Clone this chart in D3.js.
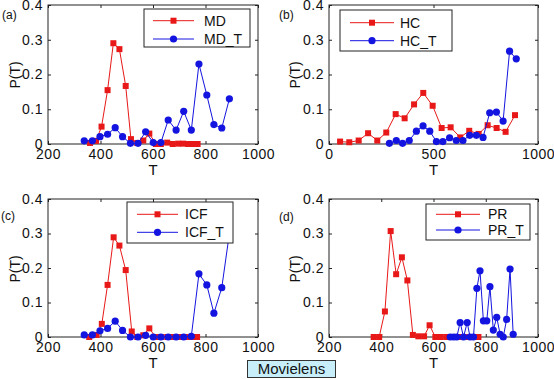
<!DOCTYPE html>
<html><head><meta charset="utf-8">
<script src="https://cdn.jsdelivr.net/npm/d3@7"></script>
<style>
body{margin:0;background:#fff;}
svg{display:block;font-family:"Liberation Sans",Arial,Helvetica,sans-serif;}
</style></head>
<body><svg id="c" width="554" height="380"></svg>
<script>
// ---------- data ----------
const xTicksA = [200, 400, 600, 800, 1000];
const xTicksB = [0, 500, 1000];
const yTicks = [0, 0.1, 0.2, 0.3, 0.4];

// (a) MD
const tMD = [360, 383, 404, 427, 449, 472, 496, 516, 540, 563, 586, 611, 630, 654, 675, 696, 715, 734, 754, 770];
const pMD = [0.003, 0.009, 0.05, 0.155, 0.29, 0.273, 0.167, 0.014, 0.003, 0.01, 0.03, 0, 0, 0.004, 0, 0.001, 0.001, 0, 0, 0];
const tMDT = [338, 369, 398, 427, 456, 484, 514, 543, 572, 601, 630, 658, 688, 717, 746, 775, 805, 832, 862, 891];
const pMDT = [0.009, 0.009, 0.021, 0.028, 0.047, 0.021, 0.002, 0.002, 0.035, 0.004, 0.004, 0.069, 0.04, 0.094, 0.04, 0.23, 0.141, 0.056, 0.046, 0.13];

// (b) HC
const tHC = [53, 97, 142, 187, 231, 274, 319, 362, 407, 451, 496, 539, 582, 628, 671, 716, 759, 802, 845, 890];
const pHC = [0.007, 0.005, 0.01, 0.031, 0.01, 0.033, 0.086, 0.074, 0.114, 0.147, 0.11, 0.046, 0.048, 0.019, 0.038, 0.029, 0.054, 0.046, 0.035, 0.083];
const tHCT = [289, 322, 352, 384, 418, 450, 482, 514, 545, 577, 609, 641, 673, 705, 737, 769, 801, 833, 864, 896];
const pHCT = [0.002, 0.01, 0.002, 0.01, 0.037, 0.052, 0.037, 0.007, 0.007, 0.018, 0.01, 0.01, 0.025, 0.025, 0.019, 0.09, 0.092, 0.066, 0.267, 0.245];

// (c) ICF
const tICF = [357, 385, 405, 427, 450, 472, 496, 519, 540, 563, 586, 610, 630, 654, 675, 696, 715, 734, 754, 768];
const pICF = [0, 0.006, 0.038, 0.151, 0.289, 0.265, 0.194, 0.016, 0, 0.005, 0.025, 0, 0, 0, 0, 0, 0, 0, 0, 0];
const tICFT = [338, 369, 398, 427, 456, 484, 514, 543, 572, 601, 630, 658, 688, 717, 746, 775, 805, 832, 862, 891];
const pICFT = [0.006, 0.006, 0.018, 0.025, 0.046, 0.019, 0, 0, 0.005, 0, 0, 0, 0, 0, 0.002, 0.183, 0.151, 0.069, 0.143, 0.3];

// (d) PR
const tPR = [371, 392, 414, 436, 457, 479, 500, 521, 542, 564, 585, 607, 628, 650, 671, 693, 714, 735, 757, 772];
const pPR = [0, 0, 0.074, 0.307, 0.182, 0.231, 0.164, 0.006, 0.002, 0.002, 0.034, 0, 0, 0, 0, 0, 0, 0, 0, 0];
const tPRT = [664, 677, 689, 702, 715, 729, 740, 753, 766, 778, 791, 804, 816, 829, 842, 855, 867, 880, 893, 905];
const pPRT = [0, 0, 0, 0.042, 0, 0.042, 0, 0, 0.141, 0.192, 0.047, 0.047, 0.146, 0.02, 0.057, 0.008, 0, 0.051, 0.197, 0.008];

const RED = "#e81818", BLUE = "#1414e0";

const panels = [
  {tag:"(a)", names:["MD","MD_T"], s1:[tMD,pMD], s2:[tMDT,pMDT], xd:[200,1000], xt:xTicksA,
   box:[48,5,258,144], tagPos:[2,19], ylab:[15,75], leg:{x0:144,y0:9,x1:250,y1:47,l0:153,l1:194,tx:204,r1:20.7,r2:39}},
  {tag:"(b)", names:["HC","HC_T"], s1:[tHC,pHC], s2:[tHCT,pHCT], xd:[0,1000], xt:xTicksB,
   box:[329,5,538,144], tagPos:[279,19], ylab:[295,75], leg:{x0:340,y0:10,x1:452,y1:51,l0:350,l1:394,tx:400,r1:22.7,r2:40.7}},
  {tag:"(c)", names:["ICF","ICF_T"], s1:[tICF,pICF], s2:[tICFT,pICFT], xd:[200,1000], xt:xTicksA,
   box:[48,199,258,337], tagPos:[1,220], ylab:[15,269], leg:{x0:127,y0:202,x1:233,y1:243,l0:137,l1:178,tx:185,r1:214.3,r2:232.3}},
  {tag:"(d)", names:["PR","PR_T"], s1:[tPR,pPR], s2:[tPRT,pPRT], xd:[200,1000], xt:xTicksA,
   box:[329,199,538,337], tagPos:[279,221], ylab:[295,269], leg:{x0:426,y0:204,x1:530,y1:240,l0:436,l1:480,tx:488,r1:214.3,r2:230}}
];

const svg = d3.select("#c");
const fmtY = d => d === 0 ? "0" : d3.format(".1f")(d);

function square(g, x, y) {
  g.append("rect").attr("x", x - 3).attr("y", y - 3).attr("width", 6).attr("height", 6).attr("fill", RED);
}
function circle(g, x, y) {
  g.append("circle").attr("cx", x).attr("cy", y).attr("r", 3.6).attr("fill", BLUE);
}

panels.forEach(p => {
  const [L, T, R, B] = p.box;
  const x = d3.scaleLinear().domain(p.xd).range([L, R]);
  const y = d3.scaleLinear().domain([0, 0.4]).range([B, T]);
  const g = svg.append("g");

  g.append("rect").attr("x", L).attr("y", T).attr("width", R - L).attr("height", B - T)
    .attr("fill", "none").attr("stroke", "#222").attr("stroke-width", 1);

  const style = (ax) => {
    ax.select(".domain").remove();
    ax.selectAll(".tick line").attr("stroke", "#222");
    ax.selectAll(".tick text").attr("fill", "#111").attr("font-size", "14px").attr("letter-spacing", "0.5px")
      .attr("font-family", "'Liberation Sans',Arial,sans-serif");
  };

  g.append("g").attr("transform", `translate(0,${B})`)
    .call(d3.axisBottom(x).tickValues(p.xt).tickFormat(d3.format("d")).tickSizeInner(-3).tickSizeOuter(0).tickPadding(5))
    .call(style);
  g.append("g").attr("transform", `translate(0,${T})`)
    .call(d3.axisTop(x).tickValues(p.xt).tickFormat("").tickSizeInner(-3).tickSizeOuter(0))
    .call(style);
  g.append("g").attr("transform", `translate(${L},0)`)
    .call(d3.axisLeft(y).tickValues(yTicks).tickFormat(fmtY).tickSizeInner(-3).tickSizeOuter(0).tickPadding(5))
    .call(style);
  g.append("g").attr("transform", `translate(${R},0)`)
    .call(d3.axisRight(y).tickValues(yTicks).tickFormat("").tickSizeInner(-3).tickSizeOuter(0))
    .call(style);

  g.append("text").attr("x", (L + R) / 2).attr("y", B + 31).attr("text-anchor", "middle")
    .attr("font-size", "15px").attr("fill", "#111").text("T");
  g.append("text").attr("transform", `translate(${p.ylab[0]},${p.ylab[1]}) rotate(-90)`)
    .attr("text-anchor", "middle").attr("dy", "0.35em").attr("font-size", "14px").attr("fill", "#111").text("P(T)");
  g.append("text").attr("x", p.tagPos[0]).attr("y", p.tagPos[1]).attr("font-size", "12px").attr("fill", "#111").text(p.tag);

  const line = d3.line().x(d => x(d[0])).y(d => y(d[1]));
  const d1 = p.s1[0].map((t, i) => [t, p.s1[1][i]]);
  const d2 = p.s2[0].map((t, i) => [t, p.s2[1][i]]);

  g.append("path").datum(d1).attr("d", line).attr("fill", "none").attr("stroke", RED).attr("stroke-width", 1);
  d1.forEach(d => square(g, x(d[0]), y(d[1])));
  g.append("path").datum(d2).attr("d", line).attr("fill", "none").attr("stroke", BLUE).attr("stroke-width", 1);
  d2.forEach(d => circle(g, x(d[0]), y(d[1])));

  const lg = p.leg;
  g.append("rect").attr("x", lg.x0).attr("y", lg.y0).attr("width", lg.x1 - lg.x0).attr("height", lg.y1 - lg.y0)
    .attr("fill", "#fff").attr("stroke", "#222").attr("stroke-width", 1);
  const mid = (lg.l0 + lg.l1) / 2;
  g.append("line").attr("x1", lg.l0).attr("x2", lg.l1).attr("y1", lg.r1).attr("y2", lg.r1).attr("stroke", RED);
  square(g, mid, lg.r1);
  g.append("line").attr("x1", lg.l0).attr("x2", lg.l1).attr("y1", lg.r2).attr("y2", lg.r2).attr("stroke", BLUE);
  circle(g, mid, lg.r2);
  g.append("text").attr("x", lg.tx).attr("y", lg.r1).attr("dy", "0.35em").attr("font-size", "14px").attr("fill", "#111").text(p.names[0]);
  g.append("text").attr("x", lg.tx).attr("y", lg.r2).attr("dy", "0.35em").attr("font-size", "14px").attr("fill", "#111").text(p.names[1]);
});

svg.append("rect").attr("x", 247.5).attr("y", 360.5).attr("width", 88).attr("height", 17)
  .attr("fill", "#c7eef9").attr("stroke", "#333").attr("stroke-width", 1);
svg.append("text").attr("x", 291.5).attr("y", 369).attr("dy", "0.35em").attr("text-anchor", "middle")
  .attr("font-size", "15px").attr("fill", "#111").text("Movielens");
</script></body></html>
